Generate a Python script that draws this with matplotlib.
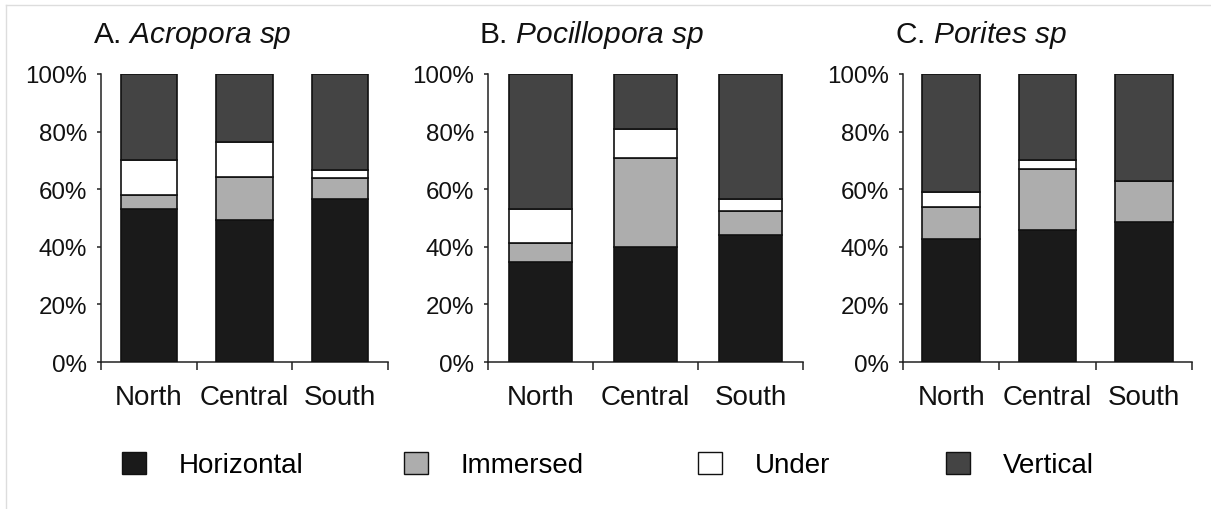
import matplotlib
matplotlib.use("Agg")
import matplotlib.pyplot as plt
from matplotlib.patches import Patch
from matplotlib.lines import Line2D
import numpy as np

plt.rcParams['font.family'] = ['Liberation Sans', 'DejaVu Sans']
plt.rcParams['mathtext.fontset'] = 'custom'
plt.rcParams['mathtext.rm'] = 'Liberation Sans'
plt.rcParams['mathtext.it'] = 'Liberation Sans:italic'

regions = ["North", "Central", "South"]
series = ["Horizontal", "Immersed", "Under", "Vertical"]
colors = ["#1a1a1a", "#adadad", "#ffffff", "#444444"]
y_ticks = [0, 20, 40, 60, 80, 100]
y_tick_labels = ["0%", "20%", "40%", "60%", "80%", "100%"]

title_letters = ["A.", "B.", "C."]
title_species = ["Acropora sp", "Pocillopora sp", "Porites sp"]

# percentages per region: North, Central, South
acropora_horizontal = [53.0, 49.4, 56.7]
acropora_immersed = [4.9, 14.8, 7.3]
acropora_under = [12.4, 12.1, 2.6]
acropora_vertical = [29.7, 23.7, 33.4]

pocillopora_horizontal = [34.7, 39.8, 44.1]
pocillopora_immersed = [6.5, 31.1, 8.3]
pocillopora_under = [12.0, 10.1, 4.1]
pocillopora_vertical = [46.8, 19.0, 43.5]

porites_horizontal = [42.8, 45.9, 48.6]
porites_immersed = [11.1, 21.2, 14.1]
porites_under = [5.0, 3.0, 0.0]
porites_vertical = [41.1, 29.9, 37.3]

panels = [
    [acropora_horizontal, acropora_immersed, acropora_under, acropora_vertical],
    [pocillopora_horizontal, pocillopora_immersed, pocillopora_under, pocillopora_vertical],
    [porites_horizontal, porites_immersed, porites_under, porites_vertical],
]

W, H = 1211, 510
fig = plt.figure(figsize=(W / 100, H / 100), dpi=100)

axes_px = [(101, 388), (488, 803), (903, 1192)]
bar_widths = [0.59, 0.6, 0.6]
top_px, bot_px = 75, 363
title_x_px = [93, 479, 895]

for i, (x0, x1) in enumerate(axes_px):
    ax = fig.add_axes([x0 / W, 1 - bot_px / H, (x1 - x0) / W, (bot_px - top_px) / H])
    x = np.arange(len(regions))
    bottom = np.zeros(len(regions))
    for vals, c in zip(panels[i], colors):
        ax.bar(x, vals, bottom=bottom, width=bar_widths[i], color=c,
               edgecolor="#111111", linewidth=1.2, zorder=3)
        bottom += np.array(vals)
    ax.set_xlim(-0.5, 2.5)
    ax.set_ylim(0, 100)
    ax.set_yticks(y_ticks)
    ax.set_yticklabels(y_tick_labels, fontsize=17.4, color="#111111")
    ax.set_xticks([-0.5, 0.5, 1.5, 2.5])
    ax.set_xticklabels([])
    ax.set_xticks(x, minor=True)
    ax.set_xticklabels(regions, minor=True, fontsize=20, color="#111111")
    ax.tick_params(axis='x', which='major', direction='out', length=5.5, width=1.1, color="#222222")
    ax.tick_params(axis='x', which='minor', length=0, pad=16)
    ax.tick_params(axis='y', direction='out', length=3, width=1.1, color="#222222", pad=7)
    for s in ['top', 'right']:
        ax.spines[s].set_visible(False)
    for s in ['left', 'bottom']:
        ax.spines[s].set_linewidth(1.1)
        ax.spines[s].set_color("#222222")
    fig.text(title_x_px[i] / W, 1 - 43 / H,
             title_letters[i] + r" $\mathit{" + title_species[i].replace(" ", r"\ ") + "}$",
             fontsize=21.5, ha='left', va='baseline', color="#111111")

# legend entries placed individually
legend_x_px = [122, 404, 698, 946]
for name, c, lx in zip(series, colors, legend_x_px):
    h = Patch(facecolor=c, edgecolor="#111111", linewidth=1.0)
    fig.legend([h], [name], loc='center left', bbox_to_anchor=(lx / W, 1 - 466 / H),
               frameon=False, fontsize=20, borderpad=0, borderaxespad=0,
               handlelength=0.86, handleheight=0.83, handletextpad=1.18)

# light frame lines
fig.add_artist(Line2D([6 / W, 1], [1 - 6 / H, 1 - 6 / H], color="#dddddd", linewidth=1.0))
fig.add_artist(Line2D([6 / W, 6 / W], [0, 1 - 6 / H], color="#dddddd", linewidth=1.0))

fig.savefig("out.png", dpi=100)
